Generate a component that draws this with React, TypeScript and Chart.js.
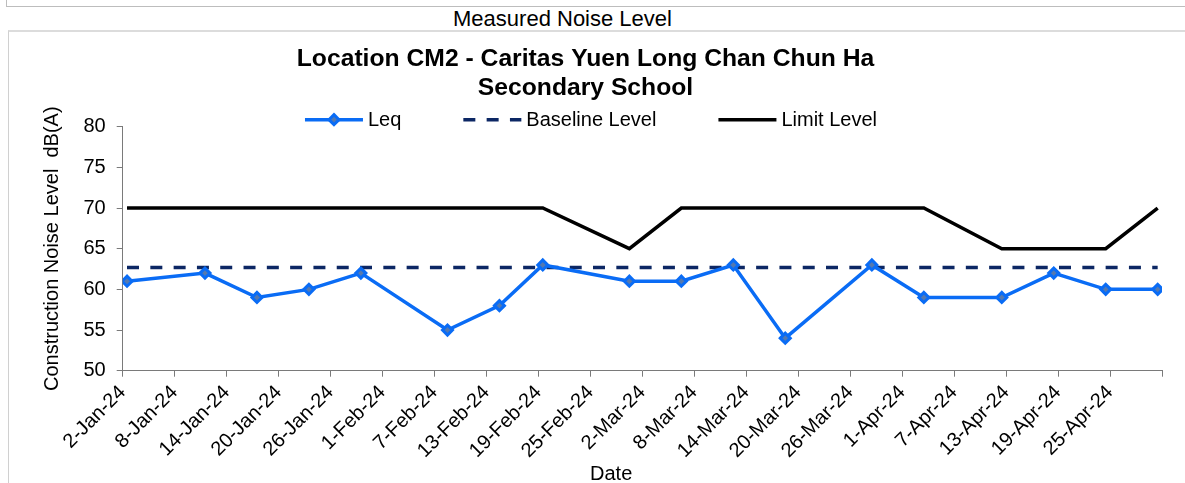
import React, { useEffect, useRef } from 'react';
import { Chart, registerables } from 'chart.js';

Chart.register(...registerables);

// ---- data ----
const MEASURE_DATES = [
  '2024-01-02', '2024-01-11', '2024-01-17', '2024-01-23', '2024-01-29',
  '2024-02-08', '2024-02-14', '2024-02-19', '2024-02-29', '2024-03-06',
  '2024-03-12', '2024-03-18', '2024-03-28', '2024-04-03', '2024-04-12',
  '2024-04-18', '2024-04-24', '2024-04-30',
];
const LEQ = [61, 62, 59, 60, 62, 55, 58, 63, 61, 61, 63, 54, 63, 59, 59, 62, 60, 60];
const BASELINE = [62.7, 62.7, 62.7, 62.7, 62.7, 62.7, 62.7, 62.7, 62.7, 62.7, 62.7, 62.7, 62.7, 62.7, 62.7, 62.7, 62.7, 62.7];
const LIMIT = [70, 70, 70, 70, 70, 70, 70, 70, 65, 70, 70, 70, 70, 70, 65, 65, 65, 70];
const SERIES_NAMES = ['Leq', 'Baseline Level', 'Limit Level'];

const AXIS_START = '2024-01-02';
const AXIS_END = '2024-05-01';
const X_TICK_STEP_DAYS = 6;
const Y_MIN = 50;
const Y_MAX = 80;
const Y_STEP = 5;
const MONTHS = ['Jan', 'Feb', 'Mar', 'Apr', 'May', 'Jun', 'Jul', 'Aug', 'Sep', 'Oct', 'Nov', 'Dec'];

const HEADER = 'Measured Noise Level';
const TITLE_LINES = ['Location CM2 - Caritas Yuen Long Chan Chun Ha', 'Secondary School'];
const Y_TITLE = 'Construction Noise Level  dB(A)';
const X_TITLE = 'Date';

const FONT = '"Liberation Sans", Arial, Helvetica, sans-serif';

const DAY_MS = 86400000;
const toUTC = (s: string) => {
  const [y, m, d] = s.split('-').map(Number);
  return Date.UTC(y, m - 1, d);
};
const dayIndex = (s: string) => Math.round((toUTC(s) - toUTC(AXIS_START)) / DAY_MS);
// points sit in the middle of their day slot (Excel date axis)
const toPoints = (vals: number[]) => vals.map((v, i) => ({ x: dayIndex(MEASURE_DATES[i]) + 0.5, y: v }));
const X_MAX = dayIndex(AXIS_END);

const fmtTick = (v: number) => {
  if (v >= X_MAX) return '';
  const d = new Date(toUTC(AXIS_START) + v * DAY_MS);
  return `${d.getUTCDate()}-${MONTHS[d.getUTCMonth()]}-${String(d.getUTCFullYear()).slice(2)}`;
};

const LEQ_COLOR = '#0A6CF5';
const LEQ_FILL = '#5479B0';
const BASE_COLOR = '#0C2764';
const LIMIT_COLOR = '#000000';
const AXIS_COLOR = '#7a7a7a';

const overlayPlugin = {
  id: 'overlay',
  afterDraw(chart: any) {
    const ctx = chart.ctx as CanvasRenderingContext2D;
    const area = chart.chartArea;
    ctx.save();
    // legend
    ctx.font = `20px ${FONT}`;
    const sample = 58, gap = 5, spacing = 62;
    const ds = chart.data.datasets;
    const widths = ds.map((d: any) => sample + gap + ctx.measureText(d.label).width);
    const total = widths.reduce((a: number, b: number) => a + b, 0) + spacing * (ds.length - 1);
    let x = chart.width / 2 - 6 - total / 2;
    const y = area.top - 7;
    ds.forEach((d: any, i: number) => {
      ctx.strokeStyle = d.borderColor;
      ctx.lineWidth = d.borderWidth;
      ctx.setLineDash(d.borderDash || []);
      ctx.lineCap = 'butt';
      ctx.beginPath();
      ctx.moveTo(x, y);
      ctx.lineTo(x + sample, y);
      ctx.stroke();
      ctx.setLineDash([]);
      if (d.pointRadius > 0) {
        const cx = x + sample / 2, r = d.pointRadius;
        ctx.beginPath();
        ctx.moveTo(cx, y - r);
        ctx.lineTo(cx + r, y);
        ctx.lineTo(cx, y + r);
        ctx.lineTo(cx - r, y);
        ctx.closePath();
        ctx.fillStyle = d.pointBackgroundColor;
        ctx.fill();
        ctx.lineWidth = d.pointBorderWidth;
        ctx.strokeStyle = d.pointBorderColor;
        ctx.stroke();
      }
      ctx.fillStyle = '#000';
      ctx.textBaseline = 'middle';
      ctx.textAlign = 'left';
      ctx.fillText(d.label, x + sample + gap, y + 1);
      x += widths[i] + spacing;
    });
    // x axis title
    ctx.textAlign = 'center';
    ctx.textBaseline = 'middle';
    ctx.fillStyle = '#000';
    ctx.fillText(X_TITLE, area.left + (area.right - area.left) * 0.47, chart.height - 9);
    ctx.restore();
  },
};

export default function App() {
  const ref = useRef<HTMLCanvasElement | null>(null);

  useEffect(() => {
    if (!ref.current) return;
    Chart.defaults.font.family = FONT;
    const chart = new Chart(ref.current, {
      type: 'line',
      data: {
        datasets: [
          {
            label: SERIES_NAMES[0],
            data: toPoints(LEQ),
            borderColor: LEQ_COLOR,
            borderWidth: 3.5,
            pointStyle: 'rectRot',
            pointRadius: 5,
            pointBorderWidth: 3,
            pointBackgroundColor: LEQ_FILL,
            pointBorderColor: LEQ_COLOR,
            tension: 0,
          },
          {
            label: SERIES_NAMES[1],
            data: toPoints(BASELINE),
            borderColor: BASE_COLOR,
            borderWidth: 3.5,
            borderDash: [12, 11.3],
            pointRadius: 0,
            tension: 0,
          },
          {
            label: SERIES_NAMES[2],
            data: toPoints(LIMIT),
            borderColor: LIMIT_COLOR,
            borderWidth: 3.5,
            pointRadius: 0,
            tension: 0,
          },
        ] as any,
      },
      options: {
        animation: false,
        responsive: false,
        layout: { padding: { left: 0, right: 23, top: 0, bottom: 0 } },
        plugins: {
          legend: { display: false },
          tooltip: { enabled: false },
          title: {
            display: true,
            text: TITLE_LINES,
            color: '#000',
            font: { size: 24.7, weight: 'bold', lineHeight: 1.2 },
            padding: { top: 12, bottom: 23.4 },
          },
        },
        scales: {
          x: {
            type: 'linear',
            min: 0,
            max: X_MAX,
            afterFit: (s: any) => { s.height = 112.3; },
            ticks: {
              stepSize: X_TICK_STEP_DAYS,
              autoSkip: false,
              maxRotation: 45,
              minRotation: 45,
              color: '#000',
              font: { size: 20 },
              padding: 4,
              callback: (v: any) => fmtTick(Number(v)),
            },
            grid: { drawOnChartArea: false, drawTicks: true, tickLength: 6, color: AXIS_COLOR },
            border: { display: true, color: AXIS_COLOR, width: 1 },
          },
          y: {
            min: Y_MIN,
            max: Y_MAX,
            afterFit: (s: any) => { s.width = 113.7; },
            ticks: { stepSize: Y_STEP, color: '#000', font: { size: 20 }, padding: 11 },
            grid: { drawOnChartArea: false, drawTicks: true, tickLength: 6, color: AXIS_COLOR },
            border: { display: true, color: AXIS_COLOR, width: 1 },
            title: {
              display: true,
              text: Y_TITLE,
              color: '#000',
              font: { size: 20 },
              padding: { top: 31, bottom: 0 },
            },
          },
        },
      } as any,
      plugins: [overlayPlugin],
    });
    return () => chart.destroy();
  }, []);

  return (
    <div style={{ position: 'fixed', left: 0, top: 0, width: 1185, height: 483, overflow: 'hidden', background: '#fff', fontFamily: FONT }}>
      <div style={{ position: 'absolute', left: 6, top: -10, width: 1300, height: 17, boxSizing: 'border-box', border: '1px solid #bdbdbd' }} />
      <div style={{ position: 'absolute', left: 0, top: 7, width: 1125, textAlign: 'center', fontSize: 22, lineHeight: '24px', color: '#000' }}>{HEADER}</div>
      <div style={{ position: 'absolute', left: 8, top: 30, width: 1300, height: 600, boxSizing: 'border-box', borderLeft: '1px solid #d0d0d0', borderTop: '2px solid #dcdcdc' }} />
      <canvas ref={ref} width={1176} height={451} style={{ position: 'absolute', left: 9, top: 32, width: 1176, height: 451 }} />
    </div>
  );
}
